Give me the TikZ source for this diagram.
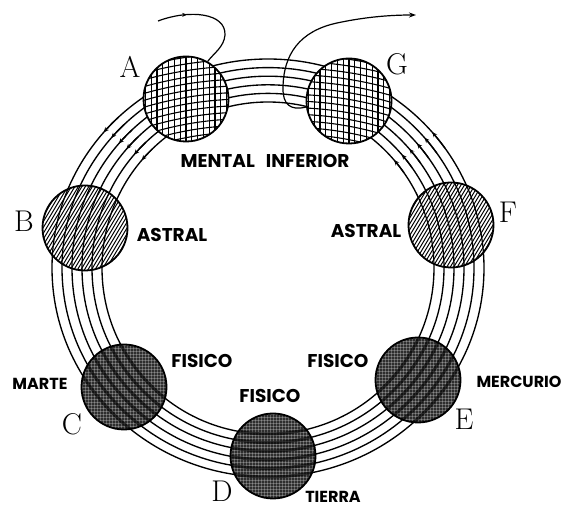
\documentclass[tikz,border=0pt]{standalone}
\usepackage{fontspec}
\newfontfamily\labfont{Poppins}
\usetikzlibrary{arrows.meta,decorations.markings}
\newcommand{\drawringlines}[1]{%
  \foreach \i in {0,...,5}{%
    \pgfmathsetmacro\rx{166+10*\i}%
    \pgfmathsetmacro\ry{166+8.6*\i}%
    \draw[#1] (cen) ellipse [x radius=\rx pt, y radius=\ry pt];}}
\begin{document}
\begin{tikzpicture}[x=1pt,y=1pt,
  ring/.style={line width=1.35pt},
  ringtip/.style={line width=1.35pt, -{Stealth[length=5pt,width=4.5pt]}},
  planet/.style={circle, draw, line width=1.8pt, minimum size=85pt, inner sep=0pt, fill=white},
  gridpat/.style={path picture={
    \foreach \k in {-9,...,9} \draw[line width=1.1pt] ([xshift=\k*5.8pt, yshift=-50pt]path picture bounding box.center) -- ++(0,100);
    \foreach \k in {-8,...,8}{\pgfmathsetmacro\rr{350+6.6*\k}\draw[line width=1.1pt] ([shift={(#1*60pt,-350pt)}]path picture bounding box.center) circle[radius=\rr pt];}
  }},
  hatchpat/.style={path picture={
    \foreach \k in {-30,...,30} \draw[line width=1pt] ([xshift=\k*3.5pt-30pt, yshift=-50pt]path picture bounding box.center) -- ++(60,100);
    \drawringlines{line width=1.2pt}
  }},
  darkpat/.style={fill=black!82, path picture={
    \foreach \k in {-15,...,15}{
      \draw[white, opacity=0.25, line width=0.6pt] ([xshift=\k*3pt, yshift=-50pt]path picture bounding box.center) -- ++(0,100);
      \draw[white, opacity=0.25, line width=0.6pt] ([yshift=\k*3pt, xshift=-50pt]path picture bounding box.center) -- ++(100,0);}
    \drawringlines{line width=3pt, black, opacity=0.6}
  }},
  curveline/.style={line width=1.2pt},
  bigletter/.style={font=\fontsize{30}{30}\selectfont, inner sep=0pt, anchor=base},
  lab/.style={font=\labfont\bfseries\fontsize{18.5}{18.5}\selectfont, inner sep=0pt, anchor=base},
  smalllab/.style={font=\labfont\bfseries\fontsize{16}{16}\selectfont, inner sep=0pt, anchor=base}
]
\useasboundingbox (0,0) rectangle (566,509);
\coordinate (cen) at (268,241);
% ring with arrow marks
\foreach \i in {0,...,5}{
  \pgfmathsetmacro\rx{166+10*\i}
  \pgfmathsetmacro\ry{166+8.6*\i}
  \draw[ring] (cen) ellipse [x radius=\rx pt, y radius=\ry pt];
  \draw[ringtip] ([shift={(cen)}]134:\rx pt and \ry pt) arc[start angle=134, end angle=139.5, x radius=\rx pt, y radius=\ry pt];
  \draw[ringtip] ([shift={(cen)}]35:\rx pt and \ry pt) arc[start angle=35, end angle=40.5, x radius=\rx pt, y radius=\ry pt];
}
% planets
\node[planet, gridpat=1] (A) at (186,410) {};
\node[planet, gridpat=-1] (G) at (349,408) {};
\node[planet, hatchpat] (B) at (85,281) {};
\node[planet, hatchpat] (F) at (451,284) {};
\node[planet, darkpat] (C) at (124,122) {};
\node[planet, darkpat] (D) at (273,53) {};
\node[planet, darkpat] (E) at (418,129) {};
% entry / exit curves
\coordinate (a0) at (158,488);
\coordinate (g1) at (416,494);
\draw[curveline, postaction={decorate}, decoration={markings, mark=at position 0.27 with {\arrow{Stealth[length=5pt,width=4pt]}}}]
  (a0) .. controls (190,500) and (226,496) .. (225,474) .. controls (224,462) and (214,456) .. (A.60);
\draw[curveline, -{Stealth[length=7pt,width=5pt]}]
  (G.188) .. controls (290,398) and (283,405) .. (283,420) .. controls (283,455) and (300,478) .. (337,486) .. controls (365,492) and (390,494) .. (g1);
% letters
\node[bigletter] (lA) at (130,431) {A};
\node[bigletter] (lG) at (397,434) {G};
\node[bigletter] (lB) at (24,277) {B};
\node[bigletter] (lF) at (508,286) {F};
\node[bigletter] (lC) at (72,74) {C};
\node[bigletter] (lD) at (222,7) {D};
\node[bigletter] (lE) at (464,79) {E};
% labels
\node[lab] (t1) at (265,341) {MENTAL\hspace{11pt}INFERIOR};
\node[lab] (t2) at (172,267) {ASTRAL};
\node[lab] (t3) at (366,271) {ASTRAL};
\node[lab] (t4) at (202,141) {FISICO};
\node[lab] (t5) at (270,106) {FISICO};
\node[lab] (t6) at (338,141) {FISICO};
\node[smalllab] (t7) at (40,119) {MARTE};
\node[smalllab] (t8) at (519,121) {MERCURIO};
\node[smalllab] (t9) at (333,6) {TIERRA};
\end{tikzpicture}
\end{document}
